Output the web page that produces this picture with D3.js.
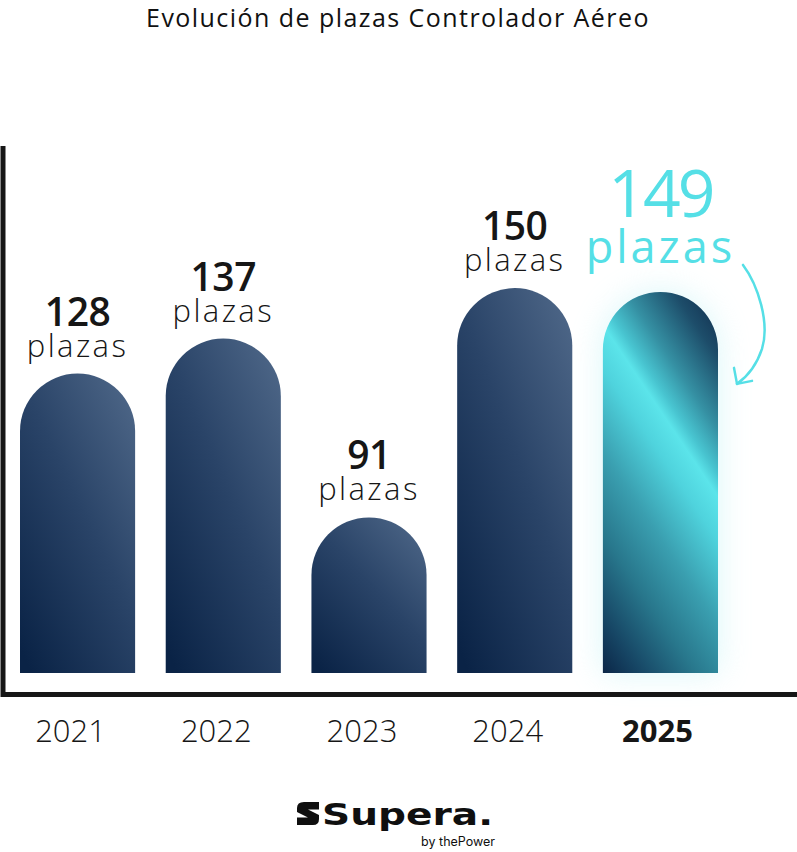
<!DOCTYPE html>
<html>
<head>
<meta charset="utf-8">
<script src="https://cdn.jsdelivr.net/npm/d3@7"></script>
<style>
  html, body { margin: 0; padding: 0; background: #ffffff; }
  svg { display: block; }
</style>
</head>
<body>
<div id="chart"></div>
<script>
// ---- data ----
const title = "Evolución de plazas Controlador Aéreo";
const years = ["2021", "2022", "2023", "2024", "2025"];
const plazas = [128, 137, 91, 150, 149];
const unitLabel = "plazas";
const highlightYear = "2025";
const brandName = "Supera.";
const brandSub = "by thePower";

const W = 797, H = 852;
const FONT = "'Open Sans', Lato, sans-serif";

const svg = d3.select("#chart").append("svg")
  .attr("width", W).attr("height", H)
  .attr("viewBox", `0 0 ${W} ${H}`);

const defs = svg.append("defs");

// dark bar gradient
const g1 = defs.append("linearGradient").attr("id", "gDark")
  .attr("x1", 0.9).attr("y1", 0).attr("x2", 0.1).attr("y2", 1);
g1.append("stop").attr("offset", 0).attr("stop-color", "#4d6687");
g1.append("stop").attr("offset", 0.45).attr("stop-color", "#2a4468");
g1.append("stop").attr("offset", 1).attr("stop-color", "#0a2346");

// glow filter
const f = defs.append("filter").attr("id", "glow")
  .attr("x", "-60%").attr("y", "-30%").attr("width", "220%").attr("height", "160%");
f.append("feGaussianBlur").attr("stdDeviation", 16);

const baseY = 673;
const x = d3.scaleBand().domain(years).range([20, 718]).paddingInner(0.21).paddingOuter(0);
const y = d3.scaleLinear().domain([51, 150]).range([baseY, 288]);

function barPath(d, i) {
  const x0 = x(d), x1 = x0 + x.bandwidth(), r = x.bandwidth() / 2;
  const top = y(plazas[i]);
  return `M${x0},${baseY} V${top + r} A${r},${r} 0 0 1 ${x1},${top + r} V${baseY} Z`;
}

// highlight gradient (user space, diagonal stripe)
const hi = years.indexOf(highlightYear);
const hiTop = y(plazas[hi]);
{
  const x0 = x(highlightYear), x1 = x0 + x.bandwidth();
  const ux = -0.831, uy = 0.557;
  const len = (x0 - x1) * ux + (baseY - hiTop) * uy;
  const g2 = defs.append("linearGradient").attr("id", "gHi")
    .attr("gradientUnits", "userSpaceOnUse")
    .attr("x1", x1).attr("y1", hiTop)
    .attr("x2", x1 + ux * len).attr("y2", hiTop + uy * len);
  const stops = [
    [0, "#0f2848"], [0.12, "#1d4d6a"], [0.25, "#3590a3"], [0.33, "#48c4d0"],
    [0.37, "#5be4ea"], [0.45, "#4fd3dd"], [0.6, "#3a9fb0"], [0.75, "#28778c"],
    [0.9, "#164564"], [1, "#0b2647"]
  ];
  stops.forEach(s => g2.append("stop").attr("offset", s[0]).attr("stop-color", s[1]));
}

// title
svg.append("text")
  .attr("x", 398).attr("y", 27)
  .attr("text-anchor", "middle")
  .attr("font-family", FONT).attr("font-size", 25).attr("font-weight", 400)
  .attr("letter-spacing", 1.45)
  .attr("fill", "#111").text(title);

// glow behind highlighted bar
svg.append("path")
  .attr("d", barPath(highlightYear, hi))
  .attr("fill", "#aeeef3").attr("opacity", 0.45)
  .attr("filter", "url(#glow)");

// bars
svg.selectAll("path.bar").data(years).join("path")
  .attr("class", "bar")
  .attr("d", (d, i) => barPath(d, i))
  .attr("fill", d => d === highlightYear ? "url(#gHi)" : "url(#gDark)");

// value labels
years.forEach((d, i) => {
  const cx = x(d) + x.bandwidth() / 2;
  const top = y(plazas[i]);
  const isHi = d === highlightYear;
  svg.append("text")
    .attr("x", cx).attr("y", top - (isHi ? 75 : 48))
    .attr("text-anchor", "middle")
    .attr("font-family", FONT).attr("font-weight", isHi ? 500 : 600)
    .attr("font-size", isHi ? 66 : 39)
    .attr("letter-spacing", isHi ? -3 : -0.5)
    .attr("fill", isHi ? "#55dfe6" : "#161616")
    .text(plazas[i]);
  svg.append("text")
    .attr("x", cx).attr("y", top - (isHi ? 29 : 17))
    .attr("text-anchor", "middle")
    .attr("font-family", FONT).attr("font-weight", isHi ? 500 : 300)
    .attr("font-size", isHi ? 45 : 31)
    .attr("letter-spacing", isHi ? 3 : 2.4)
    .attr("fill", isHi ? "#55dfe6" : "#161616")
    .text(unitLabel);
});

// axes (drawn lines, no ticks)
svg.append("line").attr("x1", 3).attr("x2", 3).attr("y1", 146).attr("y2", 697)
  .attr("stroke", "#161616").attr("stroke-width", 5);
svg.append("line").attr("x1", 1).attr("x2", W).attr("y1", 694.5).attr("y2", 694.5)
  .attr("stroke", "#161616").attr("stroke-width", 5);

const xAxis = svg.append("g").attr("transform", `translate(0,${baseY})`)
  .call(d3.axisBottom(x).tickSize(0).tickPadding(0));
xAxis.select(".domain").remove();
xAxis.selectAll("text")
  .attr("y", 69).attr("dy", 0).attr("dx", d => d === highlightYear ? -3 : -7)
  .attr("font-family", FONT)
  .attr("font-size", 31)
  .attr("font-weight", d => d === highlightYear ? 700 : 300)
  .attr("fill", "#161616");

// arrow (placed relative to the highlighted bar)
const arrowColor = "#55dfe6";
const ay = hiTop - 265;
svg.append("path")
  .attr("transform", `translate(0,${ay})`)
  .attr("d", "M743,238 C758,258 770,296 762,322 C756,340 747,350 737,357")
  .attr("fill", "none").attr("stroke", arrowColor).attr("stroke-width", 2.5)
  .attr("stroke-linecap", "round");
svg.append("path")
  .attr("transform", `translate(0,${ay})`)
  .attr("d", "M734,341 L737,357 L752,354")
  .attr("fill", "none").attr("stroke", arrowColor).attr("stroke-width", 2.5)
  .attr("stroke-linecap", "round").attr("stroke-linejoin", "round");

// brand logo
const logo = svg.append("g");
logo.append("path")
  .attr("d", "M304,802 H319 V809.5 H308 L319,815 V819 Q319,825 313,825 H297 V817.5 H308 L297,812 V808 Q297,802 304,802 Z")
  .attr("fill", "#0f0f0f");
logo.append("text")
  .attr("x", 322).attr("y", 825)
  .attr("font-family", "'DejaVu Sans', sans-serif").attr("font-weight", 700)
  .attr("font-size", 31)
  .attr("textLength", 171).attr("lengthAdjust", "spacingAndGlyphs")
  .attr("fill", "#0f0f0f").text(brandName);
logo.append("text")
  .attr("x", 495).attr("y", 846).attr("text-anchor", "end")
  .attr("font-family", "Inter, 'Open Sans', sans-serif").attr("font-weight", 400)
  .attr("font-size", 12.5)
  .attr("fill", "#0f0f0f").text(brandSub);
</script>
</body>
</html>
